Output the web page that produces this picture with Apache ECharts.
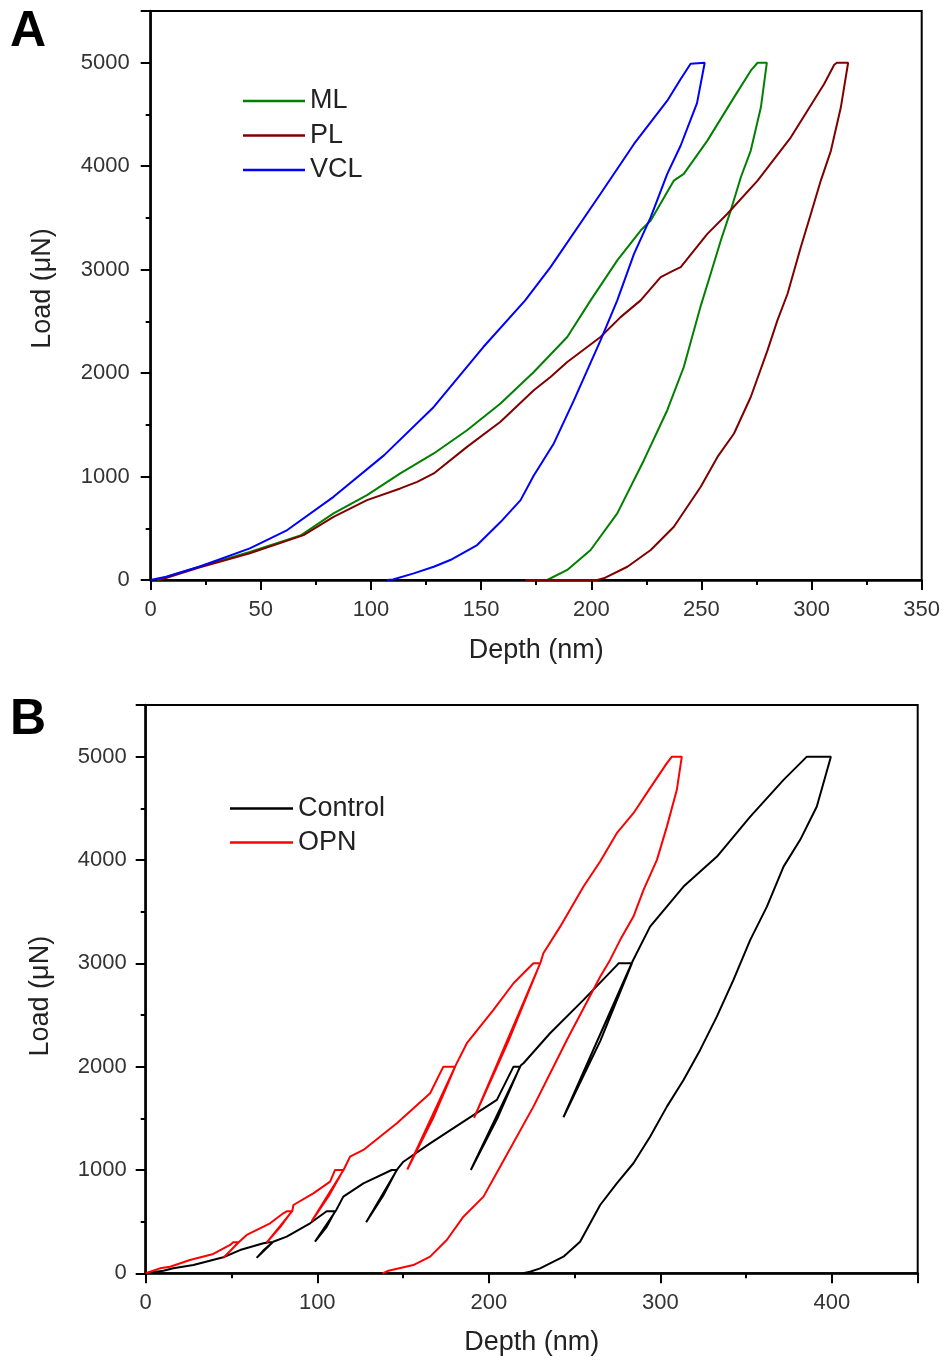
<!DOCTYPE html>
<html>
<head>
<meta charset="utf-8">
<script src="https://cdn.jsdelivr.net/npm/echarts@6/dist/echarts.min.js"></script>
<style>
html,body{margin:0;padding:0;background:#fff;}
#c{width:946px;height:1363px;}
</style>
</head>
<body>
<div id="c"></div>
<script>
// ---------- Panel A data: [depth (nm), load (uN)] ----------
const seriesNamesA = ['ML', 'PL', 'VCL'];
const mlCurve = [
  [3,0],[22,128],[45,270],[68,430],[83,644],[98.2,820],[113.3,1030],[128.5,1223],[143.6,1448],
  [158.8,1706],[173.9,2011],[189.1,2349],[199.7,2703],[211.8,3089],[222.4,3378],[227,3475],
  [237.5,3861],[242,3925],[252.7,4247],[264.8,4665],[272.4,4923],[275.5,5000],[279.7,5000],
  [277,4569],[272.4,4151],[267.9,3893],[263.3,3571],[258.8,3282],[254.2,2960],[249.7,2650],
  [242,2059],[234.5,1641],[223.9,1158],[211.8,644],[199.7,290],[189.1,97],[180,0],[172,0]
];
const plCurve = [
  [4,0],[22,120],[45,258],[69.4,434],[83,611],[98.2,772],[113.3,885],[121,949],[128.5,1030],
  [143.6,1287],[158.8,1530],[173.9,1834],[181.5,1962],[189.1,2107],[204.2,2349],[213.3,2541],
  [222.4,2703],[231.5,2928],[237.5,2992],[240.6,3024],[252.7,3346],[261.8,3540],[275.5,3861],
  [290.6,4279],[305.7,4794],[310.3,4981],[311.5,5000],[316.6,5000],
  [313.3,4569],[308.8,4151],[304.2,3861],[299.7,3540],[295.1,3217],[289.1,2767],[284.5,2510],
  [280,2220],[272.4,1769],[264.8,1416],[257.3,1190],[249.7,901],[237.5,515],[227,290],
  [216.4,128],[205.7,16],[202.7,0],[170.1,0]
];
const vclCurve = [
  [0,0],[7,32],[22,128],[45,306],[62,483],[83,804],[106,1207],[128.5,1673],[151,2252],
  [170,2703],[181.5,3024],[204.2,3733],[219.4,4215],[234.5,4633],[240.6,4843],
  [245.1,4990],[246,5000],[251.5,5000],
  [248,4610],[240.6,4200],[234.5,3926],[227,3507],[219.4,3153],[211.8,2703],[204.2,2317],
  [192.1,1737],[183,1320],[173.9,1010],[167.9,772],[158.8,560],[148.2,338],
  [136,193],[128.5,128],[119.4,64],[110,5],[107.3,0]
];

// ---------- Panel B data ----------
const seriesNamesB = ['Control', 'OPN'];
const controlCurve = [
  [0,0],[10.3,25],[16.1,48],[27.8,80],[45.2,155],[55,225],[68.6,290],[72,300],[74,300],
  [68.5,220],[64.7,150],[74.3,305],
  [82.2,355],[95.8,484],[105.5,600],[110.4,600],
  [105.5,450],[98.7,306],[111,610],
  [115.2,742],[126.9,871],[143.4,1000],[146.3,1000],
  [138.4,750],[128.5,495],[146.6,1005],
  [150.2,1080],[165.8,1258],[185.2,1468],[204.7,1678],[214.4,2000],[218.2,2000],
  [205,1500],[189.5,1000],[218.6,2010],
  [220.2,2033],[235.7,2323],[255.2,2646],[274.6,2980],[275.6,3000],[283.4,3000],
  [265,2250],[243.5,1510],[283.8,3020],
  [294,3355],[313.5,3743],[333,4033],[352.4,4420],[371.8,4775],[385.4,5000],[399.4,5000],
  [391.2,4517],[381.5,4195],[371.8,3936],[362.1,3549],[352.4,3227],[342.6,2839],[332.9,2484],
  [323.2,2162],[313.5,1871],[303.8,1613],[294,1322],[284.3,1065],[274.6,871],[264.9,661],
  [253.2,306],[243.5,161],[229.9,48],[224,15],[220,0]
];
const opnCurve = [
  [0,0],[8.3,48],[14.2,64],[25.8,129],[39.4,187],[49.2,274],[51,300],[54,300],
  [49.5,220],[45.3,150],[54.5,305],
  [58.9,371],[72.5,484],[80.2,581],[82.2,600],[85.1,600],
  [78.5,450],[70.5,298],[85.5,605],
  [86.1,661],[97.7,774],[107.5,887],[110.4,1000],[115.2,1000],
  [106.8,750],[96.8,505],[115.5,1005],
  [119.1,1129],[126.9,1194],[146.4,1452],[165.8,1742],[173.5,2000],[180.4,2000],
  [167.5,1500],[152.5,1005],[180.6,2010],
  [187.2,2227],[202.7,2549],[214.4,2807],[226,3000],[229.9,3000],
  [211.5,2250],[191.4,1505],[230.2,3010],
  [231.8,3098],[241.6,3355],[255.2,3743],[264.9,3985],[274.6,4259],[284.3,4453],[294,4695],
  [303.8,4937],[306.7,5000],[312.5,5000],
  [309.6,4679],[303.8,4323],[298,4001],[290.2,3711],[284.3,3452],[276.6,3227],[270.7,3033],
  [264.9,2870],[245.5,2258],[226,1613],[206.6,1032],[196.9,742],[185.2,548],[175.5,322],
  [165.8,161],[156,80],[141.5,25],[138,0]
];

// ---------- Axis settings ----------
const xMaxA = 350, xIntA = 50;
const xMaxB = 450, xIntB = 100;
const yMax = 5500, yInt = 1000;

const FONT = '"Liberation Sans", Arial, sans-serif';

function xAxisCfg(grid, max, interval, nameGap) {
  return {
    type: 'value', gridIndex: grid, min: 0, max: max, interval: interval,
    name: 'Depth (nm)', nameLocation: 'middle', nameGap: nameGap,
    nameTextStyle: {fontSize: 27, color: '#222', fontFamily: FONT},
    axisLine: {show: true, onZero: false, lineStyle: {color: '#000', width: 2.5}},
    axisTick: {show: true, length: 10, lineStyle: {color: '#000', width: 2}},
    minorTick: {show: true, splitNumber: 2, length: 5, lineStyle: {color: '#000', width: 2}},
    splitLine: {show: false},
    axisLabel: {fontSize: 22, color: '#333', margin: 19, fontFamily: FONT,
      formatter: function (v) { return v % interval !== 0 ? '' : String(v); }}
  };
}
function yAxisCfg(grid, nameGap, labelMargin, namePad) {
  return {
    type: 'value', gridIndex: grid, min: 0, max: yMax, interval: yInt,
    name: 'Load (μN)', nameLocation: 'middle', nameGap: nameGap,
    nameTextStyle: {fontSize: 27, color: '#222', fontFamily: FONT, padding: namePad},
    axisLine: {show: true, onZero: false, lineStyle: {color: '#000', width: 2.5}},
    axisTick: {show: true, length: 10, lineStyle: {color: '#000', width: 2}},
    minorTick: {show: true, splitNumber: 2, length: 5, lineStyle: {color: '#000', width: 2}},
    splitLine: {show: false},
    axisLabel: {fontSize: 22, color: '#333', margin: labelMargin, fontFamily: FONT,
      formatter: function (v) { return v % yInt !== 0 ? '' : String(v); }}
  };
}

function lineSeries(name, data, color, xi) {
  return {
    name: name, type: 'line', data: data, xAxisIndex: xi, yAxisIndex: xi,
    showSymbol: false, symbol: 'none', smooth: false,
    lineStyle: {color: color, width: 2}, itemStyle: {color: color},
    animation: false
  };
}

const chart = echarts.init(document.getElementById('c'), null, {renderer: 'canvas'});
chart.setOption({
  backgroundColor: '#fff',
  animation: false,
  grid: [
    {left: 150.7, top: 11, width: 771, height: 569, show: true, borderColor: '#000', borderWidth: 2},
    {left: 145.7, top: 705, width: 772, height: 568.3, show: true, borderColor: '#000', borderWidth: 2}
  ],
  xAxis: [xAxisCfg(0, xMaxA, xIntA, 57), xAxisCfg(1, xMaxB, xIntB, 56)],
  yAxis: [yAxisCfg(0, 95, 21, [0, 0, 0, 14]), yAxisCfg(1, 92, 19, [0, 14, 0, 0])],
  legend: [
    {data: seriesNamesA, orient: 'vertical', left: 243, top: 87.5, padding: 0, itemWidth: 62, itemHeight: 2.5,
     icon: 'rect', itemGap: 7.5, textStyle: {fontSize: 27, color: '#222', lineHeight: 27, fontFamily: FONT}},
    {data: seriesNamesB, orient: 'vertical', left: 230, top: 795, padding: 0, itemWidth: 63, itemHeight: 2.5,
     icon: 'rect', itemGap: 7, textStyle: {fontSize: 27, color: '#222', lineHeight: 27, fontFamily: FONT}}
  ],
  graphic: [
    {type: 'text', x: 10, y: 32, style: {text: 'A', font: 'bold 50px ' + FONT, fill: '#000', textVerticalAlign: 'middle'}},
    {type: 'text', x: 10, y: 720, style: {text: 'B', font: 'bold 50px ' + FONT, fill: '#000', textVerticalAlign: 'middle'}}
  ],
  series: [
    lineSeries('ML', mlCurve, '#008000', 0),
    lineSeries('PL', plCurve, '#800000', 0),
    lineSeries('VCL', vclCurve, '#0000ff', 0),
    lineSeries('Control', controlCurve, '#000000', 1),
    lineSeries('OPN', opnCurve, '#ff0000', 1)
  ]
});
</script>
</body>
</html>
